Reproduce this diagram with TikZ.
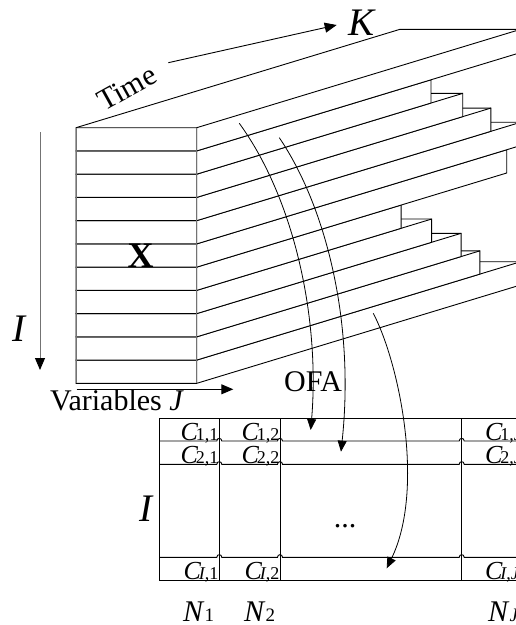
\documentclass[tikz,border=0pt]{standalone}
\usepackage{fontspec}
\setmainfont{Liberation Serif}
\usetikzlibrary{arrows.meta}

\tikzset{
  slab/.style={fill=white, draw=black, line width=0.9pt},
  slabedge/.style={draw=black, line width=0.9pt},
  grid/.style={draw=black, line width=0.9pt},
  ofa/.style={line width=0.8pt, -{Triangle[length=11pt,width=9pt]}},
  axa/.style={line width=0.9pt, -{Triangle[length=12pt,width=10pt,color=black]}},
  lbl/.style={inner sep=0pt, font=\fontsize{30}{30}\selectfont},
  big/.style={inner sep=0pt, font=\fontsize{39}{39}\selectfont\itshape},
}
% eticheta de celula C cu indice asezat pe linia de baza
\newcommand\cellC[1]{\fontsize{26}{26}\selectfont\textit{C}\kern-2.5pt{\fontsize{18}{18}\selectfont #1}}
\newcommand\lblN[1]{\textit{N}{\fontsize{19}{19}\selectfont #1}}
% linie orizontala cu "salt" peste o verticala
\newcommand\hop[2]{-- ({#1-2.5},#2) .. controls +(0,-3.5) and +(0,-3.5) .. ({#1+2.5},#2)}

\begin{document}
\begin{tikzpicture}[x=1pt,y=-1pt]
    \useasboundingbox (0,0) rectangle (516,625);
    \clip (0,0) rectangle (516,625);
    \def\xl{76}     % marginea stanga a fetei
    \def\xr{196.7}  % marginea dreapta a fetei
    \def\yt{127.7}  % marginea de sus a fetei
    \def\rh{23.24}  % inaltimea unei felii
    \def\dx{324}    % adancimea completa (x)
    \def\dz{98.4}   % adancimea completa (y)
    % Felii -- desenate de jos in sus, \f = lungimea relativa
    \foreach \i/\f in {11/1,10/0.874,9/0.816,8/0.725,7/0.631,6/0.957,5/1,4/0.908,3/0.821,2/0.723,1/1} {
      \pgfmathsetmacro\ya{\yt+(\i-1)*\rh}
      \pgfmathsetmacro\yb{\yt+\i*\rh}
      \pgfmathsetmacro\ex{\f*\dx}
      \pgfmathsetmacro\ez{\f*\dz}
      \filldraw[slab] (\xl,\yb) -- (\xr,\yb) -- (\xr+\ex,\yb-\ez) -- (\xr+\ex,\ya-\ez)
        -- (\xl+\ex,\ya-\ez) -- (\xl,\ya) -- cycle;
      \draw[slabedge] (\xl,\ya) -- (\xr,\ya) -- (\xr,\yb) (\xr,\ya) -- (\xr+\ex,\ya-\ez);
    }
    % Muchiile verticale ale fetei
    \draw[slabedge, draw=black!55] (\xl,\yt) -- (\xl,{\yt+11*\rh}) (\xr,\yt) -- (\xr,{\yt+11*\rh});
    \node[inner sep=0pt, anchor=base, font=\fontsize{36}{36}\selectfont\bfseries] (xlbl) at (140.5,267) {X};
    % Axele
    \coordinate (ia) at (40,132.3);
    \coordinate (ib) at (40,370);
    \coordinate (ja) at (76.7,389.3);
    \coordinate (jb) at (233.3,389.3);
    \coordinate (ka) at (168.3,62.7);
    \coordinate (kb) at (336.7,25);
    \draw[axa, draw=black!55] (ia) -- (ib);
    \draw[axa] (ja) -- (jb);
    \draw[axa] (ka) -- (kb);
    \node[big, anchor=base west] (ilbl) at (12,341) {I};
    \node[lbl, anchor=base west] (var) at (50,410) {Variables \textit{J}};
    \node[lbl, rotate=29] (time) at (127,88) {Time};
    \node[big, anchor=base west] (klbl) at (348,35) {K};
    % Matricea de jos
    \def\mt{418.3}
    \def\mb{580}
    \draw[grid] (159.3,\mt) -- (530,\mt) (159.3,\mb) -- (530,\mb);
    \foreach \vx in {159.3,219.3,280,461.7}
      \draw[grid] (\vx,\mt) -- (\vx,\mb);
    \foreach \hy in {441,464.3,557.3}
      \draw[grid] (159.3,\hy) \hop{219.3}{\hy} \hop{280}{\hy} \hop{461.7}{\hy} -- (530,\hy);
    % Etichete celule
    \node[lbl, anchor=base east] (c11) at (218.5,440) {\cellC{1,1}};
    \node[lbl, anchor=base east] (c12) at (279.5,440) {\cellC{1,2}};
    \node[lbl, anchor=base west] (c1J) at (485,440) {\cellC{1,\textit{J}}};
    \node[lbl, anchor=base east] (c21) at (218.5,463.5) {\cellC{2,1}};
    \node[lbl, anchor=base east] (c22) at (279.5,463.5) {\cellC{2,2}};
    \node[lbl, anchor=base west] (c2J) at (485,463.5) {\cellC{2,\textit{J}}};
    \node[lbl, anchor=base east] (cI1) at (218.5,579) {\cellC{\textit{I},1}};
    \node[lbl, anchor=base east] (cI2) at (279.5,579) {\cellC{\textit{I},2}};
    \node[lbl, anchor=base west] (cIJ) at (485,579) {\cellC{\textit{I},\textit{J}}};
    \node[big, anchor=base west] (imat) at (139,521) {I};
    \node[lbl, anchor=base] (dots) at (345,527) {...};
    \node[lbl, anchor=base west] (n1) at (183,621) {\lblN{1}};
    \node[lbl, anchor=base west] (n2) at (244,621) {\lblN{2}};
    \node[lbl, anchor=base west] (nJ) at (488,621) {\lblN{\textit{J}}};
    % Sagetile OFA
    \coordinate (s1) at (239.3,123.3);
    \coordinate (t1) at (310.7,430);
    \coordinate (s2) at (279.3,137.7);
    \coordinate (t2) at (341,451.7);
    \coordinate (s3) at (373.3,313.3);
    \coordinate (t3) at (386.7,568.3);
    \draw[ofa] (s1) .. controls (295,200) and (320,320) .. (t1);
    \draw[ofa] (s2) .. controls (325,205) and (355,320) .. (t2);
    \draw[ofa] (s3) .. controls (400,365) and (425,490) .. (t3);
    \node[lbl, anchor=base west] (ofa) at (284,391.5) {OFA};
\end{tikzpicture}
\end{document}
